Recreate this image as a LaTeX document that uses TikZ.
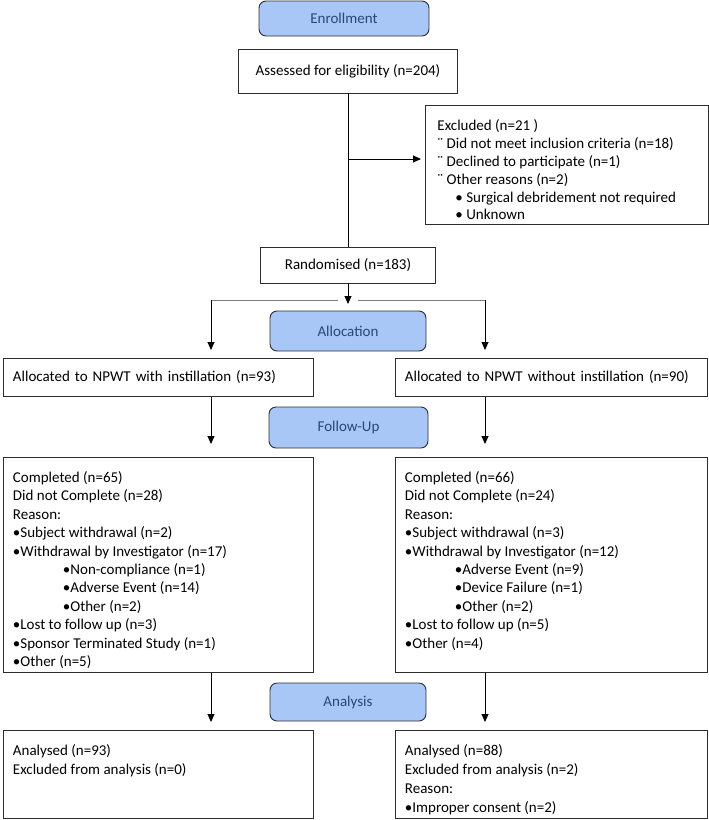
\documentclass[tikz,border=0pt]{standalone}
\usepackage{fontspec}
\setmainfont{Carlito}
\usepackage{tikz}
\usetikzlibrary{positioning, arrows.meta}
\definecolor{faseazul}{RGB}{168,198,246}
\definecolor{fasetexto}{RGB}{40,70,120}
\definecolor{borde}{RGB}{45,45,45}
\definecolor{ramagris}{RGB}{125,125,125}
\tikzset{
	>={Triangle[length=8pt,width=7pt]}, % Punta de flecha triangular rellena
	every node/.style={font=\fontsize{15}{18.4}\selectfont}, % Letra de todos los textos
	fase/.style={draw=borde, fill=faseazul, text=fasetexto, rounded corners=7pt, line width=0.9pt}, % Cajas de las etapas
	caja/.style={draw=borde, line width=0.9pt, inner sep=0pt}, % Cajas con datos
	linea/.style={line width=0.9pt}, % Conectores
	rama/.style={line width=0.9pt, draw=ramagris} % Linea que reparte los grupos
}
% caja de texto alto fijo: alto, ancho, primera linea, texto
\newcommand{\cuadro}[4]{\parbox[c][#1][t]{#2}{\rule{0pt}{#3}#4}}

\begin{document}
\begin{tikzpicture}[x=1pt, y=-1pt]
	\useasboundingbox (0,0) rectangle (709,820);
	% inscripcion
	\node[fase, minimum width=170, minimum height=35] (inscripcion) at (344,18.5) {Enrollment};
	\node[caja, minimum width=219, minimum height=44] (evaluados) at (348,71) {Assessed for eligibility (n=204)};
	\node[caja, anchor=north west, inner xsep=12pt] (excluidos) at (425,105) {\cuadro{119pt}{259pt}{25pt}{\baselineskip=17.9pt Excluded (n=21 )\\
		¨ Did not meet inclusion criteria (n=18)\\
		¨ Declined to participate (n=1)\\
		¨ Other reasons (n=2)\\
		\hspace*{18pt}• Surgical debridement not required\\
		\hspace*{18pt}• Unknown}};
	\node[caja, minimum width=175, minimum height=36] (aleatorio) at (348,265) {Randomised (n=183)};
	% asignacion
	\node[fase, minimum width=156, minimum height=40] (asignacion) at (348,331) {Allocation};
	\node[caja, anchor=north west, minimum height=38, text width=291pt, align=left, inner xsep=9.5pt] (asig1) at (3,358) {Allocated to NPWT with instillation (n=93)};
	\node[caja, anchor=north west, minimum height=38, text width=293pt, align=left, inner xsep=9.5pt] (asig2) at (395,358) {Allocated to NPWT without instillation (n=90)};
	% seguimiento
	\node[fase, minimum width=159, minimum height=41] (seguimiento) at (348.5,427.5) {Follow-Up};
	\node[caja, anchor=north west, inner xsep=9.5pt] (seg1) at (3,457) {\cuadro{215pt}{291pt}{25pt}{Completed (n=65)\\
		Did not Complete (n=28)\\
		Reason:\\
		•Subject withdrawal (n=2)\\
		•Withdrawal by Investigator (n=17)\\
		\hspace*{50pt}•Non-compliance (n=1)\\
		\hspace*{50pt}•Adverse Event (n=14)\\
		\hspace*{50pt}•Other (n=2)\\
		•Lost to follow up (n=3)\\
		•Sponsor Terminated Study (n=1)\\
		•Other (n=5)}};
	\node[caja, anchor=north west, inner xsep=9.5pt] (seg2) at (395,457) {\cuadro{215pt}{293pt}{25pt}{Completed (n=66)\\
		Did not Complete (n=24)\\
		Reason:\\
		•Subject withdrawal (n=3)\\
		•Withdrawal by Investigator (n=12)\\
		\hspace*{50pt}•Adverse Event (n=9)\\
		\hspace*{50pt}•Device Failure (n=1)\\
		\hspace*{50pt}•Other (n=2)\\
		•Lost to follow up (n=5)\\
		•Other (n=4)}};
	% analisis
	\node[fase, minimum width=156, minimum height=38] (analisis) at (348,702) {Analysis};
	\node[caja, anchor=north west, inner xsep=9.5pt] (ana1) at (3,730) {\cuadro{88pt}{291pt}{25pt}{\baselineskip=19pt Analysed (n=93)\\
		Excluded from analysis (n=0)}};
	\node[caja, anchor=north west, inner xsep=9.5pt] (ana2) at (395,730) {\cuadro{88pt}{293pt}{25pt}{\baselineskip=19pt Analysed (n=88)\\
		Excluded from analysis (n=2)\\
		Reason:\\
		•Improper consent (n=2)}};
	% puntos de los conectores
	\coordinate (cruce) at (348,159);
	\coordinate (centro) at (348,304);
	\coordinate (rama1) at (211,300);
	\coordinate (hueco1) at (338,300);
	\coordinate (hueco2) at (358,300);
	\coordinate (rama2) at (485,300);
	% conectores
	\draw[linea] (evaluados.south) -- (aleatorio.north);
	\draw[linea, ->, shorten >=4pt] (cruce) -- (cruce -| excluidos.west);
	\draw[linea, ->] (aleatorio.south) -- (centro);
	\draw[rama] (rama1) -- (hueco1) (hueco2) -- (rama2);
	\draw[linea, ->, shorten >=8pt] (rama1) -- (rama1 |- asig1.north);
	\draw[linea, ->, shorten >=8pt] (rama2) -- (rama2 |- asig2.north);
	\draw[linea, ->, shorten >=13pt] (asig1.south -| rama1) -- (rama1 |- seg1.north);
	\draw[linea, ->, shorten >=13pt] (asig2.south -| rama2) -- (rama2 |- seg2.north);
	\draw[linea, ->, shorten >=8pt] (seg1.south -| rama1) -- (rama1 |- ana1.north);
	\draw[linea, ->, shorten >=8pt] (seg2.south -| rama2) -- (rama2 |- ana2.north);
\end{tikzpicture}
\end{document}
